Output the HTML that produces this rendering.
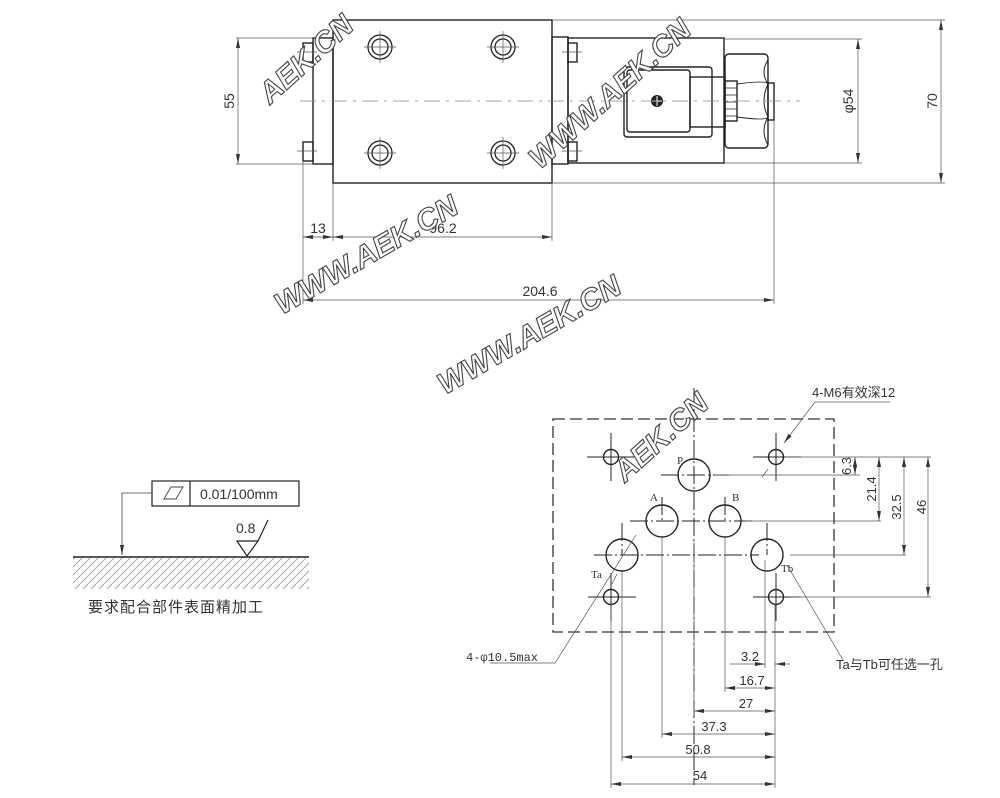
<!DOCTYPE html>
<html><head><meta charset="utf-8"><style>
html,body{margin:0;padding:0;background:#fff;}
svg{display:block;}
text{font-family:"Liberation Sans","Noto Sans CJK SC",sans-serif;fill:#333;}
.wm{font-family:"Liberation Sans",sans-serif;font-weight:bold;font-style:italic;font-size:30px;fill:#fff;stroke:#444;stroke-width:1.1;}
</style></head><body>
<svg width="1000" height="798" viewBox="0 0 1000 798" xmlns="http://www.w3.org/2000/svg">
<defs>
<marker id="a" viewBox="0 0 10 6" refX="10" refY="3" markerWidth="10" markerHeight="6" orient="auto-start-reverse" markerUnits="userSpaceOnUse"><path d="M0,1 L10,3 L0,5z" fill="#333"/></marker>
<pattern id="h" width="8" height="8" patternUnits="userSpaceOnUse"><path d="M-2,10 L10,-2" stroke="#999" stroke-width="0.8"/></pattern>
</defs>
<g fill="none" stroke="#222" stroke-width="1.4">
<!-- top view -->
<rect x="333" y="20" width="219" height="163"/>
<rect x="313" y="38" width="20" height="126"/>
<rect x="303" y="43" width="10" height="19"/>
<rect x="303" y="142" width="10" height="19"/>
<rect x="552" y="37" width="16" height="127"/>
<rect x="568" y="43" width="9" height="19"/>
<rect x="568" y="142" width="9" height="19"/>
<rect x="568" y="38" width="156" height="125"/>
<rect x="624" y="67" width="88" height="70" rx="3"/>
<rect x="627" y="70" width="63" height="62" rx="3"/>
<rect x="690" y="77" width="35" height="50"/>
<rect x="725" y="81" width="12" height="40"/>
<path d="M725,88h12M725,95h12M725,102h12M725,109h12M725,116h12" stroke-width="0.8"/>
<rect x="725" y="54" width="43" height="94" rx="4"/>
<path d="M737,84q30,-4 31,0M737,117q30,4 31,0M768,60q-8,12 0,24M768,84q-8,17 0,33M768,117q-8,14 0,28" stroke-width="1"/>
<rect x="768" y="83" width="6" height="37"/>
</g>
<circle cx="657" cy="101" r="6" fill="#222"/>
<path d="M652,101h10M657,96v10" stroke="#fff" stroke-width="1"/>
<g fill="none" stroke="#222" stroke-width="1.3">
<circle cx="380" cy="47" r="12"/><circle cx="380" cy="47" r="8"/>
<circle cx="503" cy="47" r="12"/><circle cx="503" cy="47" r="8"/>
<circle cx="380" cy="153" r="12"/><circle cx="380" cy="153" r="8"/>
<circle cx="503" cy="153" r="12"/><circle cx="503" cy="153" r="8"/>
</g>
<g stroke="#555" stroke-width="0.7" fill="none">
<path d="M364,47h32M380,31v32M487,47h32M503,31v32M364,153h32M380,137v32M487,153h32M503,137v32M297,52h20M297,151h20M562,52h20M562,151h20"/>
<path d="M300,101H800" stroke-dasharray="16,6,3,6" stroke="#888"/>
<!-- dims top -->
<path d="M236,38h77M236,164h77M552,20h393M724,39h138M724,163h138M552,183h393"/>
<path d="M238,38V164" marker-start="url(#a)" marker-end="url(#a)"/>
<path d="M858,39V163" marker-start="url(#a)" marker-end="url(#a)"/>
<path d="M941,20V183" marker-start="url(#a)" marker-end="url(#a)"/>
<path d="M303,161V304M333,183V241M552,183V241M774,120V304"/>
<path d="M303,237H333" marker-start="url(#a)" marker-end="url(#a)"/>
<path d="M333,237H552" marker-start="url(#a)" marker-end="url(#a)"/>
<path d="M303,300H774" marker-start="url(#a)" marker-end="url(#a)"/>
</g>
<g font-size="14">
<text x="318" y="233" text-anchor="middle">13</text>
<text x="443" y="233" text-anchor="middle">96.2</text>
<text x="540" y="296" text-anchor="middle">204.6</text>
<text transform="translate(234,101) rotate(-90)" text-anchor="middle">55</text>
<text transform="translate(853,101) rotate(-90)" text-anchor="middle">φ54</text>
<text transform="translate(937,101) rotate(-90)" text-anchor="middle">70</text>
</g>
<!-- plate -->
<rect x="553" y="419" width="281" height="213" fill="none" stroke="#333" stroke-width="1.3" stroke-dasharray="12,5"/>
<g fill="none" stroke="#222" stroke-width="1.4">
<circle cx="611" cy="457" r="7.5"/><circle cx="776" cy="457" r="7.5"/>
<circle cx="611" cy="597" r="7.5"/><circle cx="776" cy="597" r="7.5"/>
<circle cx="694" cy="475" r="16"/><circle cx="662" cy="521" r="16"/>
<circle cx="725" cy="521" r="16"/><circle cx="622" cy="555" r="16"/><circle cx="767" cy="555" r="16"/>
</g>
<g stroke="#222" stroke-width="1" fill="none">
<path d="M587,457h48M611,433v48M753,457h48M776,433v48M588,597h48M611,573v48M753,597h48M776,573v48"/>
<path d="M661,475h68M694,388V785" stroke-dasharray="18,3,2,3"/>
<path d="M630,521h125M662,497v24M725,497v24M594,555h165M622,523v32M767,523v32" stroke-dasharray="18,3,2,3"/>
</g>
<g stroke="#555" stroke-width="0.7" fill="none">
<path d="M785,457h146M715,475h145M745,521h136M790,555h116M790,597h141"/>
<path d="M855,457V475" marker-start="url(#a)" marker-end="url(#a)"/>
<path d="M879,457V521" marker-start="url(#a)" marker-end="url(#a)"/>
<path d="M904,457V555" marker-start="url(#a)" marker-end="url(#a)"/>
<path d="M928,457V597" marker-start="url(#a)" marker-end="url(#a)"/>
<path d="M890,402H815L784,443" marker-end="url(#a)"/>
<path d="M762,477L768,469"/>
<path d="M611,604V788M622,571V761M662,537V738M694,540V715M725,537V692M765,560V668M775,604V788"/>
<path d="M730,664H765" marker-end="url(#a)"/><path d="M790,664H775" marker-end="url(#a)"/>
<path d="M725,688H775" marker-start="url(#a)" marker-end="url(#a)"/>
<path d="M694,711H775" marker-start="url(#a)" marker-end="url(#a)"/>
<path d="M662,734H775" marker-start="url(#a)" marker-end="url(#a)"/>
<path d="M622,757H775" marker-start="url(#a)" marker-end="url(#a)"/>
<path d="M611,784H775" marker-start="url(#a)" marker-end="url(#a)"/>
<path d="M490,663H555L636,535"/>
<path d="M617,574L612,584"/>
<path d="M787,565L843,660"/>
</g>
<g font-size="13">
<text x="812" y="397">4-M6有效深12</text>
<text transform="translate(851,466) rotate(-90)" text-anchor="middle">6.3</text>
<text transform="translate(876,489) rotate(-90)" text-anchor="middle">21.4</text>
<text transform="translate(901,507) rotate(-90)" text-anchor="middle">32.5</text>
<text transform="translate(926,507) rotate(-90)" text-anchor="middle">46</text>
<text x="750" y="661" text-anchor="middle">3.2</text>
<text x="752" y="685" text-anchor="middle">16.7</text>
<text x="746" y="708" text-anchor="middle">27</text>
<text x="714" y="731" text-anchor="middle">37.3</text>
<text x="698" y="754" text-anchor="middle">50.8</text>
<text x="700" y="780" text-anchor="middle">54</text>
<text x="836" y="669">Ta与Tb可任选一孔</text>
</g>
<g font-family="Liberation Serif,serif" font-size="11" fill="#444">
<text x="677" y="464" style="font-family:'Liberation Serif',serif">P</text>
<text x="650" y="501" style="font-family:'Liberation Serif',serif">A</text>
<text x="732" y="501" style="font-family:'Liberation Serif',serif">B</text>
<text x="591" y="578" style="font-family:'Liberation Serif',serif">Ta</text>
<text x="781" y="572" style="font-family:'Liberation Serif',serif">Tb</text>
<text x="466" y="661" font-size="12" style="font-family:'Liberation Mono',monospace">4-φ10.5max</text>
</g>
<!-- left symbol -->
<rect x="73" y="557" width="236" height="32" fill="url(#h)"/>
<g fill="none" stroke="#222" stroke-width="1.2">
<rect x="152" y="481" width="147" height="25"/>
<path d="M190,481V506"/>
<path d="M73,557H309" stroke-width="1.5"/>
<path d="M237,541L247,556L258,541ZM258,541L268,520"/>
</g>
<path d="M164,499L171,487H183L176,499Z" fill="none" stroke="#444" stroke-width="0.9"/>
<path d="M152,493H122V555" fill="none" stroke="#444" stroke-width="0.8" marker-end="url(#a)"/>
<text x="200" y="499" font-size="14">0.01/100mm</text>
<text x="236" y="533" font-size="14">0.8</text>
<text x="88" y="612" font-size="15" letter-spacing="1">要求配合部件表面精加工</text>
<!-- watermarks -->
<g class="wm">
<text class="wm" transform="translate(270,105) rotate(-42)">AEK.CN</text>
<text class="wm" transform="translate(540,170) rotate(-42)">WWW.AEK.CN</text>
<text class="wm" transform="translate(282,315) rotate(-30)">WWW.AEK.CN</text>
<text class="wm" transform="translate(445,395) rotate(-30)">WWW.AEK.CN</text>
<text class="wm" transform="translate(625,483) rotate(-42)">AEK.CN</text>
</g>
</svg>
</body></html>
